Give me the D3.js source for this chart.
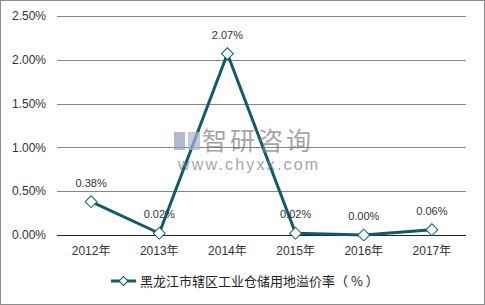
<!DOCTYPE html>
<html>
<head>
<meta charset="utf-8">
<script src="https://cdn.jsdelivr.net/npm/d3@7"></script>
<style>
  body { margin: 0; background: #fff; }
  svg { display: block; font-family: Arial, "Liberation Sans", "Noto Sans CJK SC", sans-serif; }
</style>
</head>
<body>
<div id="chart"></div>
<script>
// 年份
var years = ["2012年", "2013年", "2014年", "2015年", "2016年", "2017年"];
// 溢价率 (%)
var values = [0.38, 0.02, 2.07, 0.02, 0.00, 0.06];
var valueLabels = ["0.38%", "0.02%", "2.07%", "0.02%", "0.00%", "0.06%"];
var yTicks = [0, 0.5, 1.0, 1.5, 2.0, 2.5];
var seriesName = "黑龙江市辖区工业仓储用地溢价率（ % ）";

var W = 485, H = 305;
var margin = { top: 16, right: 19, bottom: 70, left: 57 };
var width = W - margin.left - margin.right,
    height = H - margin.top - margin.bottom;
var lineColor = "#0e5a6e";

var svg = d3.select("#chart").append("svg")
    .attr("width", W).attr("height", H);

// 外枠
svg.append("rect")
    .attr("x", 0.5).attr("y", 0.5)
    .attr("width", W - 1).attr("height", H - 1)
    .attr("fill", "#fff").attr("stroke", "#8c8c8c");

var g = svg.append("g").attr("transform", "translate(" + margin.left + "," + margin.top + ")");

var x = d3.scaleBand().domain(years).range([0, width]);
var y = d3.scaleLinear().domain([0, 2.5]).range([height, 0]);

// グリッド線
g.selectAll(".grid")
    .data(yTicks.filter(function (d) { return d > 0; }))
    .enter().append("line")
    .attr("x1", 0).attr("x2", width)
    .attr("y1", function (d) { return Math.round(y(d)) + 0.5; })
    .attr("y2", function (d) { return Math.round(y(d)) + 0.5; })
    .attr("stroke", "#868686").attr("stroke-width", 1);

// y軸ラベル
g.selectAll(".ytick")
    .data(yTicks)
    .enter().append("text")
    .attr("x", -11)
    .attr("y", function (d) { return y(d); })
    .attr("dy", "0.35em")
    .attr("text-anchor", "end")
    .attr("font-size", 12)
    .attr("fill", "#333")
    .text(function (d) { return d.toFixed(2) + "%"; });

// ゼロ線 (x軸)
g.append("line")
    .attr("x1", 0).attr("x2", width)
    .attr("y1", Math.round(y(0)) + 0.5).attr("y2", Math.round(y(0)) + 0.5)
    .attr("stroke", "#222").attr("stroke-width", 1);

// x軸ラベル
g.selectAll(".xtick")
    .data(years)
    .enter().append("text")
    .attr("x", function (d) { return x(d) + x.bandwidth() / 2; })
    .attr("y", height + 20)
    .attr("text-anchor", "middle")
    .attr("font-size", 12)
    .attr("fill", "#333")
    .text(function (d) { return d; });

var pts = years.map(function (d, i) { return [x(d) + x.bandwidth() / 2, y(values[i])]; });

// 折れ線
g.append("path")
    .datum(pts)
    .attr("fill", "none")
    .attr("stroke", lineColor)
    .attr("stroke-width", 3)
    .attr("stroke-linejoin", "round")
    .attr("d", d3.line());

// マーカー
g.selectAll(".marker")
    .data(pts)
    .enter().append("path")
    .attr("transform", function (d) { return "translate(" + d[0] + "," + d[1] + ") rotate(45)"; })
    .attr("d", d3.symbol().type(d3.symbolSquare).size(70))
    .attr("fill", "#fff")
    .attr("stroke", lineColor)
    .attr("stroke-width", 1);

// 透かし
var wm = svg.append("g").attr("opacity", 0.7);
wm.append("rect").attr("x", 174).attr("y", 132).attr("width", 11).attr("height", 18).attr("fill", "#8d9ec6");
wm.append("rect").attr("x", 188).attr("y", 132).attr("width", 12).attr("height", 18).attr("fill", "#a9b6d4");
wm.append("text").attr("x", 202).attr("y", 150).attr("font-size", 25)
    .attr("fill", "#808080").attr("font-family", "Noto Sans CJK SC")
    .attr("letter-spacing", 3).text("智研咨询");
wm.append("text").attr("x", 178).attr("y", 170).attr("font-size", 16)
    .attr("fill", "#808080").attr("letter-spacing", 2.2).text("www.chyxx.com");

// 値ラベル
g.selectAll(".vlabel")
    .data(pts)
    .enter().append("text")
    .attr("x", function (d) { return d[0]; })
    .attr("y", function (d) { return d[1] - 15; })
    .attr("text-anchor", "middle")
    .attr("font-size", 11)
    .attr("fill", "#333")
    .text(function (d, i) { return valueLabels[i]; });

// 凡例
var lg = svg.append("g").attr("transform", "translate(111,281)");
lg.append("line").attr("x1", 0).attr("x2", 25).attr("y1", 0).attr("y2", 0)
    .attr("stroke", lineColor).attr("stroke-width", 3);
lg.append("path")
    .attr("transform", "translate(12.5,0) rotate(45)")
    .attr("d", d3.symbol().type(d3.symbolSquare).size(40))
    .attr("fill", "#fff").attr("stroke", lineColor).attr("stroke-width", 1);
lg.append("text").attr("x", 29).attr("y", 0).attr("dy", "0.35em")
    .attr("font-size", 13).attr("fill", "#222")
    .attr("font-family", "Noto Sans CJK SC")
    .text(seriesName);
</script>
</body>
</html>
